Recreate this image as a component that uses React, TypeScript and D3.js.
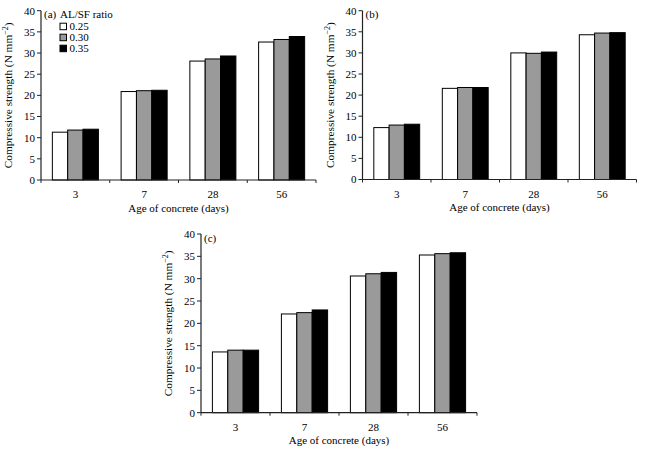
import * as d3 from "d3";

// categories
const ages = ["3", "7", "28", "56"];
const ratios = ["0.25", "0.30", "0.35"];
const yTicks = [0, 5, 10, 15, 20, 25, 30, 35, 40];

// compressive strength (N mm-2), one array per AL/SF ratio
const a025 = [11.3, 20.9, 28.1, 32.6];
const a030 = [11.8, 21.1, 28.6, 33.2];
const a035 = [12.0, 21.2, 29.3, 33.9];

const b025 = [12.3, 21.6, 30.0, 34.3];
const b030 = [12.9, 21.8, 29.9, 34.7];
const b035 = [13.1, 21.8, 30.2, 34.8];

const c025 = [13.6, 22.1, 30.6, 35.3];
const c030 = [14.0, 22.4, 31.1, 35.6];
const c035 = [14.0, 23.0, 31.4, 35.8];

const FILLS = ["#ffffff", "#9a9a9a", "#000000"];
const FONT = "'Liberation Serif', 'Times New Roman', serif";

interface PanelProps {
  tag: string;
  series: number[][];
  x0: number;
  x1: number;
  top: number;
  bottom: number;
  legend?: boolean;
}

function Panel({ tag, series, x0, x1, top, bottom, legend }: PanelProps) {
  const x = d3.scaleBand<string>().domain(ages).range([x0, x1]).padding(0);
  const inner = d3
    .scaleBand<string>()
    .domain(ratios)
    .range([0, x.step()])
    .paddingInner(0)
    .paddingOuter(0.74);
  const y = d3.scaleLinear().domain([0, 40]).range([bottom, top]);
  const boundaries = d3.range(ages.length + 1).map((i) => x0 + i * x.step());
  const midY = (top + bottom) / 2;
  const titleX = x0 - 29;

  return (
    <g fontFamily={FONT} fill="#000">
      {/* bars */}
      {series.map((vals, si) =>
        vals.map((v, ci) => (
          <rect
            key={`${si}-${ci}`}
            x={x(ages[ci])! + inner(ratios[si])!}
            y={y(v)}
            width={inner.bandwidth()}
            height={bottom - y(v)}
            fill={FILLS[si]}
            stroke="#000"
            strokeWidth={1}
          />
        ))
      )}

      {/* y axis */}
      <line x1={x0} x2={x0} y1={top} y2={bottom} stroke="#222" strokeWidth={1.2} />
      {yTicks.map((t) => (
        <g key={t}>
          <line x1={x0 - 4} x2={x0} y1={y(t)} y2={y(t)} stroke="#222" strokeWidth={1} />
          <text x={x0 - 6} y={y(t)} dy="0.35em" textAnchor="end" fontSize={11}>
            {t}
          </text>
        </g>
      ))}

      {/* x axis */}
      <line x1={x0} x2={x1} y1={bottom} y2={bottom} stroke="#222" strokeWidth={1.2} />
      {boundaries.map((bx, i) => (
        <line key={i} x1={bx} x2={bx} y1={bottom} y2={bottom + 3} stroke="#222" strokeWidth={1} />
      ))}
      {ages.map((a) => (
        <text
          key={a}
          x={x(a)! + x.bandwidth() / 2}
          y={bottom + 18}
          textAnchor="middle"
          fontSize={11}
        >
          {a}
        </text>
      ))}
      <text x={(x0 + x1) / 2} y={bottom + 31.5} textAnchor="middle" fontSize={11}>
        Age of concrete (days)
      </text>

      {/* y title */}
      <text
        transform={`translate(${titleX},${midY}) rotate(-90)`}
        textAnchor="middle"
        fontSize={11.3}
      >
        Compressive strength (N mm
        <tspan fontSize={8} dy={-4}>
          −2
        </tspan>
        <tspan dy={4}>)</tspan>
      </text>

      {/* panel tag */}
      <text x={x0 + 3} y={top + 7.5} fontSize={11}>
        ({tag})
      </text>

      {legend && (
        <g>
          <text x={x0 + 19} y={top + 7.5} fontSize={11}>
            AL/SF ratio
          </text>
          {ratios.map((r, i) => (
            <g key={r} transform={`translate(${x0 + 19},${top + 12.5 + i * 11})`}>
              <rect width={6.5} height={6.5} fill={FILLS[i]} stroke="#000" strokeWidth={1} />
              <text x={9.5} y={6.5} fontSize={11}>
                {r}
              </text>
            </g>
          ))}
        </g>
      )}
    </g>
  );
}

export default function App() {
  return (
    <div style={{ position: "absolute", left: 0, top: 0 }}>
      <svg width={645} height={455} style={{ display: "block", background: "#fff" }}>
        <Panel tag="a" series={[a025, a030, a035]} x0={41} x1={316} top={10.7} bottom={180} legend />
        <Panel tag="b" series={[b025, b030, b035]} x0={362.5} x1={636.5} top={10.7} bottom={179.5} />
        <Panel tag="c" series={[c025, c030, c035]} x0={201} x1={477} top={234} bottom={412.7} />
      </svg>
    </div>
  );
}
